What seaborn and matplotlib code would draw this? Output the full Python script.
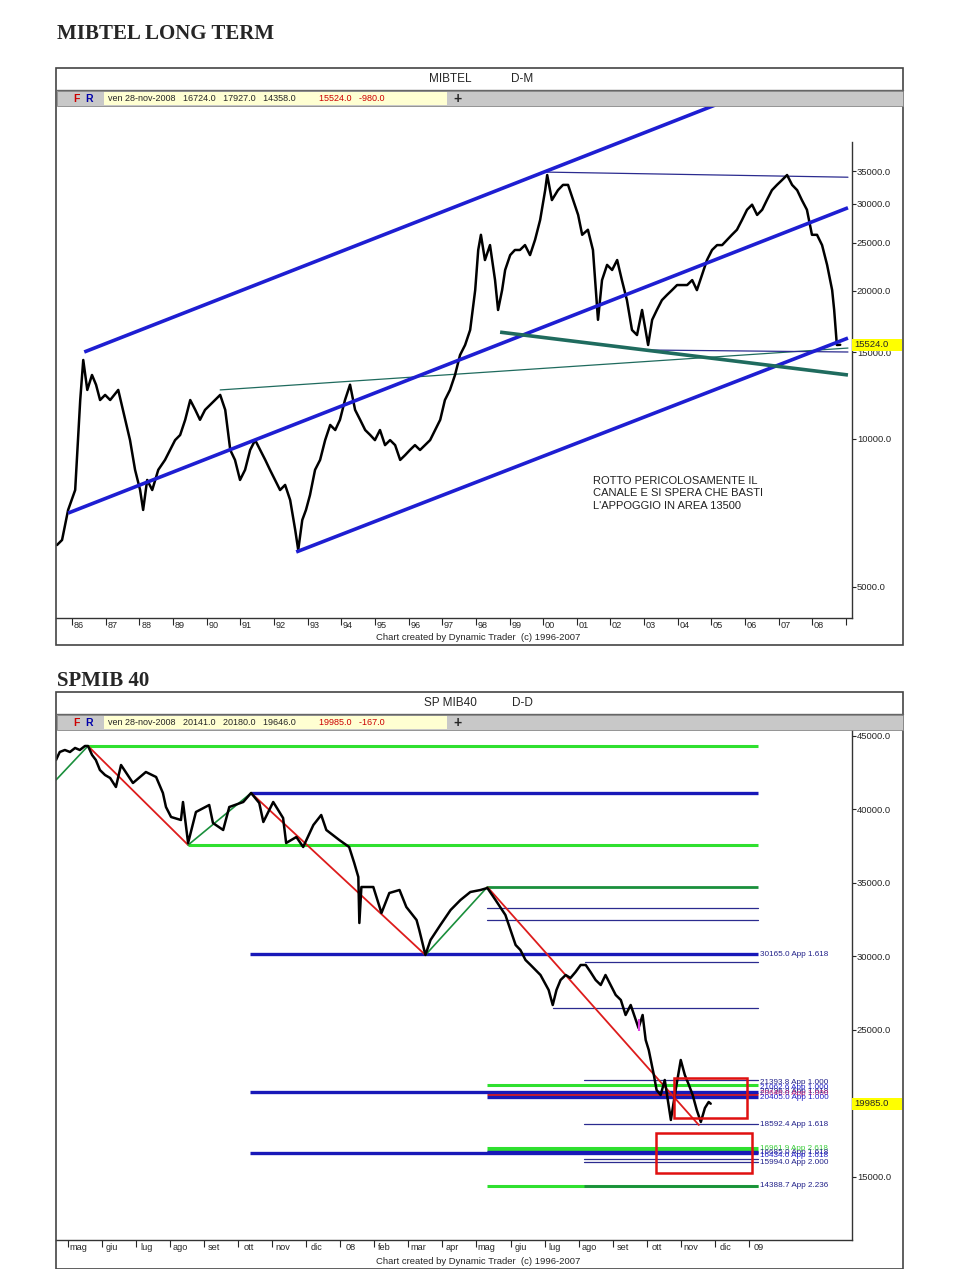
import numpy as np
import pandas as pd
import matplotlib
matplotlib.use("Agg")
import matplotlib.pyplot as plt
import seaborn as sns
from matplotlib.patches import Rectangle
from matplotlib.lines import Line2D
from matplotlib.ticker import NullLocator, FixedLocator
from matplotlib import font_manager

sns.set_style("white")
plt.rcParams['font.family'] = ['Liberation Sans', 'DejaVu Sans']
names = {f.name for f in font_manager.fontManager.ttflist}
NARROW = 'Liberation Sans Narrow' if 'Liberation Sans Narrow' in names else 'Liberation Sans'

# ---------------- DATA: MIBTEL monthly (year, close) ----------------
mib_year = [1985.55, 1985.70, 1985.88, 1986.09, 1986.24, 1986.33, 1986.45, 1986.59, 1986.71, 1986.83,
            1986.98, 1987.13, 1987.37, 1987.58, 1987.72, 1987.87, 1988.02, 1988.11, 1988.23, 1988.38,
            1988.56, 1988.76, 1988.91, 1989.06, 1989.21, 1989.36, 1989.51, 1989.66, 1989.80, 1989.95,
            1990.10, 1990.25, 1990.40, 1990.55, 1990.70, 1990.84, 1990.99, 1991.14, 1991.29, 1991.44,
            1991.59, 1991.74, 1991.88, 1992.03, 1992.18, 1992.33, 1992.48, 1992.63, 1992.72, 1992.84,
            1992.95, 1993.07, 1993.22, 1993.37, 1993.52, 1993.67, 1993.82, 1993.96, 1994.11, 1994.26,
            1994.41, 1994.56, 1994.71, 1994.86, 1995.00, 1995.15, 1995.30, 1995.45, 1995.60, 1995.75,
            1995.90, 1996.04, 1996.19, 1996.34, 1996.49, 1996.64, 1996.79, 1996.94, 1997.08, 1997.23,
            1997.38, 1997.53, 1997.68, 1997.83, 1997.98, 1998.07, 1998.15, 1998.27, 1998.42, 1998.57,
            1998.66, 1998.78, 1998.87, 1999.02, 1999.16, 1999.31, 1999.46, 1999.61, 1999.76, 1999.91,
            2000.06, 2000.12, 2000.26, 2000.44, 2000.59, 2000.74, 2000.89, 2001.04, 2001.16, 2001.33,
            2001.48, 2001.63, 2001.75, 2001.90, 2002.05, 2002.20, 2002.34, 2002.49, 2002.64, 2002.79,
            2002.94, 2003.12, 2003.24, 2003.38, 2003.53, 2003.68, 2003.83, 2003.98, 2004.13, 2004.28,
            2004.43, 2004.57, 2004.72, 2004.87, 2005.02, 2005.17, 2005.32, 2005.47, 2005.61, 2005.76,
            2005.91, 2006.06, 2006.21, 2006.36, 2006.51, 2006.65, 2006.80, 2006.95, 2007.10, 2007.25,
            2007.40, 2007.55, 2007.69, 2007.84, 2007.99, 2008.14, 2008.29, 2008.44, 2008.59, 2008.65,
            2008.73, 2008.83]
mib_close = [6085, 6230, 7170, 7870, 11990, 14460, 12570, 13480, 12880, 11990,
             12280, 11990, 12570, 10930, 9940, 8650, 7870, 7170, 8250, 7870,
             8650, 9060, 9490, 9940, 10180, 10930, 11990, 11450, 10930, 11450,
             11720, 11990, 12280, 11450, 9490, 9060, 8250, 8650, 9490, 9940,
             9490, 9060, 8650, 8250, 7870, 8060, 7510, 6530, 5945, 6840,
             7170, 7690, 8650, 9060, 9940, 10670, 10420, 10930, 11990, 12880,
             11450, 10930, 10420, 10180, 9940, 10420, 9710, 9940, 9710, 9060,
             9270, 9490, 9710, 9490, 9710, 9940, 10420, 10930, 11990, 12570,
             13480, 14800, 15510, 16640, 20050, 24190, 25970, 23080, 24750, 21010,
             18270, 20050, 22030, 23620, 24190, 24190, 24750, 23620, 25380, 27830,
             32000, 34350, 30550, 32000, 32800, 32800, 30550, 28500, 25970, 26590,
             24190, 17450, 21010, 22560, 22030, 23080, 21010, 19130, 16640, 16250,
             18270, 15510, 17450, 18270, 19130, 19600, 20050, 20530, 20530, 20530,
             21010, 20050, 21500, 23080, 24190, 24750, 24750, 25380, 25970, 26590,
             27830, 29200, 29900, 28500, 29200, 30550, 32000, 32800, 33550, 34350,
             32800, 32000, 30550, 29200, 25970, 25970, 24750, 22560, 20050, 18270,
             15510, 15524]

# channel / trend lines chart 1: (year0, value0, year1, value1)
mib_channel = [(1986.36, 15010, 2005.11, 47650),
               (1985.88, 7065, 2009.06, 29470),
               (1992.66, 5890, 2009.06, 16020)]
mib_support = [(1998.72, 16470, 2009.06, 13480)]
mib_thin_teal = [(1990.40, 12570, 2009.06, 15290)]
mib_thin_navy = [(2000.12, 34820, 2009.06, 34000),
                 (2003.12, 15150, 2009.06, 15010)]
mib_yticks = [5000, 10000, 15000, 20000, 25000, 30000, 35000]
mib_years = list(range(1986, 2010))
mib_last = 15524.0

# ---------------- DATA: SP MIB40 daily (month index from May-2007, close) ----------------
sp_month = [-0.35, -0.24, -0.09, 0.06, 0.21, 0.35, 0.50, 0.59, 0.71, 0.82, 0.94, 1.09, 1.24, 1.41,
            1.56, 1.91, 2.29, 2.59, 2.79, 2.88, 3.03, 3.32, 3.38, 3.53, 3.76, 4.15, 4.26, 4.56,
            4.74, 5.15, 5.38, 5.62, 5.74, 6.03, 6.32, 6.41, 6.71, 6.91, 7.21, 7.44, 7.59, 7.97,
            8.26, 8.41, 8.53, 8.56, 8.62, 8.97, 9.21, 9.44, 9.74, 9.94, 10.24, 10.32, 10.50,
            10.65, 10.94, 11.24, 11.53, 11.82, 12.12, 12.32, 12.56, 12.85, 13.00, 13.15, 13.29,
            13.44, 13.59, 13.88, 14.12, 14.24, 14.35, 14.47, 14.62, 14.76, 14.91, 15.06, 15.21,
            15.35, 15.50, 15.65, 15.79, 15.94, 16.09, 16.24, 16.38, 16.53, 16.68, 16.76, 16.88,
            16.97, 17.06, 17.12, 17.21, 17.29, 17.41, 17.53, 17.62, 17.71, 17.85, 18.00, 18.12,
            18.24, 18.35, 18.47, 18.59, 18.71, 18.82, 18.88]
sp_close = [43367, 43912, 44048, 43912, 44186, 44048, 44320, 44320, 43707, 43367, 42687, 42347, 42143, 41531,
            43027, 41803, 42551, 42211, 41123, 40170, 39490, 39286, 40510, 37721, 39830, 40306, 39082, 38605,
            40170, 40510, 41123, 40442, 39150, 40510, 39422, 37721, 38129, 37449, 38946, 39626, 38605, 37925,
            37449, 36360, 35408, 32279, 34727, 34727, 32959, 34319, 34524, 33367, 32483, 31802, 30102,
            31122, 32143, 33163, 33843, 34387, 34524, 34660, 33843, 32823, 31802, 30782, 30442,
            29762, 29422, 28741, 27721, 26700, 27721, 28401, 28741, 28537, 28945, 29422, 29422,
            28945, 28401, 28061, 28741, 28061, 27381, 27040, 26020, 26700, 25680, 25136, 26020,
            24319, 23639, 22959, 21938, 20918, 20578, 21598, 20238, 18878, 20918, 22959, 21938,
            21258, 20578, 19558, 18742, 19694, 20102, 19985]

sp_swings_down = [(0.59, 44320, 3.53, 37585), (5.38, 41123, 10.50, 30102), (12.32, 34727, 18.53, 18536)]
sp_swings_up = [(-0.35, 42007, 0.59, 44320), (3.53, 37585, 5.38, 41123), (10.50, 30102, 12.32, 34727)]

# horizontal levels: (value, start month)
sp_levels_green = [(44320, 0.59), (37585, 3.53), (21258, 12.32), (16961.9, 12.32), (16800, 12.32), (14388.7, 12.32)]
sp_levels_dkgreen = [(34727, 12.32), (14388.7, 15.15)]
sp_levels_blue = [(41123, 5.38), (30165.0, 5.35), (20780, 5.35), (16630, 5.35), (20442, 12.32), (16685, 12.32)]
sp_levels_red = [(20646, 12.32)]
sp_levels_thin = [(33300, 12.32), (32480, 12.32), (29600, 15.2), (26500, 14.24), (21600, 15.15),
                  (18592.4, 15.15), (16243, 15.15), (15994, 15.15)]
sp_level_end = 20.26

sp_labels = [("30165.0 App 1.618", 30165.0, 'navy'),
             ("21393.8 App 1.000", 21393.8, 'navy'),
             ("21062.6 App 1.000", 21062.6, 'blue'),
             ("20796.8 App 1.618", 20796.8, 'navy'),
             ("20646.0 App 1.000", 20646.0, 'magenta'),
             ("20405.0 App 1.000", 20405.0, 'blue'),
             ("18592.4 App 1.618", 18592.4, 'navy'),
             ("16961.9 App 2.618", 16961.9, 'green'),
             ("16685.0 App 1.618", 16685.0, 'navy'),
             ("16434.0 App 1.618", 16434.0, 'blue'),
             ("15994.0 App 2.000", 15994.0, 'navy'),
             ("14388.7 App 2.236", 14388.7, 'navy')]
sp_boxes = [(17.79, 19013, 19.94, 21734), (17.26, 15271, 20.09, 17992)]
sp_month_labels = ['mag', 'giu', 'lug', 'ago', 'set', 'ott', 'nov', 'dic', '08', 'feb', 'mar', 'apr',
                   'mag', 'giu', 'lug', 'ago', 'set', 'ott', 'nov', 'dic', '09']
sp_yticks = [15000, 25000, 30000, 35000, 40000, 45000]
sp_last = 19985.0

# ---------------- FIGURE ----------------
W, H = 960, 1269
fig = plt.figure(figsize=(9.6, 12.69), dpi=100)
fig.patch.set_facecolor('white')

def rect(x0, y0, x1, y1):
    return [x0 / W, 1 - y1 / H, (x1 - x0) / W, (y1 - y0) / H]

def frect(x0, y0, x1, y1, **kw):
    fig.add_artist(Rectangle((x0 / W, 1 - y1 / H), (x1 - x0) / W, (y1 - y0) / H,
                             transform=fig.transFigure, **kw))

def fline(x0, y0, x1, y1, **kw):
    fig.add_artist(Line2D([x0 / W, x1 / W], [1 - y0 / H, 1 - y1 / H], transform=fig.transFigure, **kw))

def ftext(x, y, s, **kw):
    fig.text(x / W, 1 - y / H, s, **kw)

BLUE1 = '#1e1ed2'
TEAL = '#1f6b5e'
NAVY = '#2b2b8f'
BGREEN = '#2fe02f'
DGREEN = '#1a8f3c'
RED = '#dd1c1c'
COLS = {'navy': '#22228a', 'blue': '#2020c8', 'green': '#3ccf3c', 'magenta': '#c0207a'}


def panel(top, title, title_y, sym, per, bar_text, bar_red):
    frect(56, top, 903, top + 577, fc='none', ec='#444444', lw=1.2, zorder=1)
    fline(56, top + 22, 903, top + 22, color='#666666', lw=1)
    frect(57, top + 22.5, 902.5, top + 38, fc='#c8c8c8', ec='#888888', lw=0.6, zorder=1)
    frect(104, top + 24, 447, top + 37, fc='#ffffd2', ec='none', zorder=2)
    ftext(450, top + 11, sym, ha='center', va='center', fontsize=8.5, family=NARROW)
    ftext(522, top + 11, per, ha='center', va='center', fontsize=8.5, family=NARROW)
    ftext(73, top + 30.5, 'F', ha='left', va='center', fontsize=7.5, color='#cc0000', weight='bold')
    ftext(85, top + 30.5, 'R', ha='left', va='center', fontsize=7.5, color='#0000aa', weight='bold')
    ftext(108, top + 30.5, bar_text, ha='left', va='center', fontsize=6.5, family=NARROW)
    ftext(319, top + 30.5, bar_red, ha='left', va='center', fontsize=6.5, family=NARROW, color='#cc0000')
    ftext(458, top + 30.5, '+', ha='center', va='center', fontsize=10, weight='bold')
    ftext(478, top + 570, 'Chart created by Dynamic Trader  (c) 1996-2007', ha='center', va='center',
          fontsize=6.8, family=NARROW)
    ftext(57, title_y, title, ha='left', va='center', fontsize=15, weight='bold',
          family=['Liberation Serif', 'DejaVu Serif'])


panel(68, 'MIBTEL LONG TERM', 34, 'MIBTEL', 'D-M',
      'ven 28-nov-2008   16724.0   17927.0   14358.0', '15524.0   -980.0')
panel(692, 'SPMIB 40', 681, 'SP MIB40', 'D-D',
      'ven 28-nov-2008   20141.0   20180.0   19646.0', '19985.0   -167.0')


def style_axes(ax, ymin_spine, ymax_spine):
    for s in ['top', 'left']:
        ax.spines[s].set_visible(False)
    ax.spines['right'].set_color('#333333')
    ax.spines['right'].set_linewidth(1.0)
    ax.spines['bottom'].set_color('#333333')
    ax.spines['bottom'].set_linewidth(1.0)
    ax.spines['right'].set_bounds(ymin_spine, ymax_spine)
    ax.yaxis.tick_right()
    ax.yaxis.set_minor_locator(NullLocator())
    ax.tick_params(axis='y', which='major', length=3, width=0.8, pad=0.5, labelsize=6.8,
                   direction='out', right=True, left=False)
    ax.set_xlabel('')
    ax.set_ylabel('')
    ax.grid(False)


def value_box(ax, v, label):
    disp = ax.transData.transform((ax.get_xlim()[1], v))
    fx, fy = fig.transFigure.inverted().transform(disp)
    fig.add_artist(Rectangle((fx, fy - 6 / H), 50 / W, 12 / H, transform=fig.transFigure,
                             fc='#ffff00', ec='none', zorder=5))
    fig.text(fx + 2 / W, fy, label, va='center', ha='left', fontsize=6.8, zorder=6)


# ---------------- CHART 1 ----------------
ax1 = fig.add_axes(rect(56, 106, 852, 618))
ax1.set_yscale('log')
df1 = pd.DataFrame({'year': mib_year, 'close': mib_close})
for (x0, v0, x1, v1) in mib_thin_teal:
    ax1.plot([x0, x1], [v0, v1], color=TEAL, lw=0.9, zorder=2)
for (x0, v0, x1, v1) in mib_thin_navy:
    ax1.plot([x0, x1], [v0, v1], color=NAVY, lw=0.9, zorder=2)
sns.lineplot(data=df1, x='year', y='close', ax=ax1, color='black', lw=1.8,
             estimator=None, sort=False, zorder=3)
for (x0, v0, x1, v1) in mib_channel:
    ax1.plot([x0, x1], [v0, v1], color=BLUE1, lw=2.6, zorder=4, solid_capstyle='butt')
for (x0, v0, x1, v1) in mib_support:
    ax1.plot([x0, x1], [v0, v1], color=TEAL, lw=2.6, zorder=4, solid_capstyle='butt')
ax1.set_xlim(1985.52, 2009.18)
ax1.set_ylim(4325, 47440)
style_axes(ax1, 4325, 40000)
ax1.yaxis.set_major_locator(FixedLocator(mib_yticks))
ax1.set_yticklabels([f"{v:.1f}" for v in mib_yticks])
ax1.xaxis.set_major_locator(FixedLocator(mib_years))
ax1.xaxis.set_minor_locator(FixedLocator([y + 0.2 for y in mib_years[:-1]]))
ax1.set_xticklabels([''] * len(mib_years))
ax1.set_xticklabels([f"{y % 100:02d}" for y in mib_years[:-1]], minor=True)
ax1.tick_params(axis='x', which='major', length=5, width=0.8, direction='out', bottom=True)
ax1.tick_params(axis='x', which='minor', length=0, pad=2, labelsize=6.6)
for t in ax1.get_xticklabels(minor=True):
    t.set_family(NARROW)
ax1.text((593 - 56) / 796, (618 - 476) / 512,
         "ROTTO PERICOLOSAMENTE IL\nCANALE E SI SPERA CHE BASTI\nL'APPOGGIO IN AREA 13500",
         transform=ax1.transAxes, ha='left', va='top', fontsize=8, linespacing=1.3, color='#222222')
value_box(ax1, mib_last, f"{mib_last:.1f}")

# ---------------- CHART 2 ----------------
ax2 = fig.add_axes(rect(56, 730, 852, 1240))
df2 = pd.DataFrame({'month': sp_month, 'close': sp_close})
for v, s in sp_levels_thin:
    ax2.plot([s, sp_level_end], [v, v], color=NAVY, lw=0.9, zorder=2)
for v, s in sp_levels_green:
    ax2.plot([s, sp_level_end], [v, v], color=BGREEN, lw=2.2, zorder=2, solid_capstyle='butt')
for v, s in sp_levels_dkgreen:
    ax2.plot([s, sp_level_end], [v, v], color=DGREEN, lw=2.0, zorder=2, solid_capstyle='butt')
for v, s in sp_levels_red:
    ax2.plot([s, sp_level_end], [v, v], color=RED, lw=2.2, zorder=2, solid_capstyle='butt')
for v, s in sp_levels_blue:
    ax2.plot([s, sp_level_end], [v, v], color='#1818b8', lw=2.4, zorder=2, solid_capstyle='butt')
for (x0, v0, x1, v1) in sp_swings_down:
    ax2.plot([x0, x1], [v0, v1], color=RED, lw=1.3, zorder=3)
for (x0, v0, x1, v1) in sp_swings_up:
    ax2.plot([x0, x1], [v0, v1], color=DGREEN, lw=1.2, zorder=3)
sns.lineplot(data=df2, x='month', y='close', ax=ax2, color='black', lw=1.8,
             estimator=None, sort=False, zorder=4)
ax2.plot([16.76], [25340], marker='|', color='#e040e0', markersize=8, mew=1.5, zorder=5)
for (m0, v0, m1, v1) in sp_boxes:
    ax2.add_patch(Rectangle((m0, v0), m1 - m0, v1 - v0, fc='none', ec='#e01010', lw=1.8, zorder=6))
for txt, v, c in sp_labels:
    ax2.text(sp_level_end + 0.06, v, txt, ha='left', va='center', fontsize=5.9, color=COLS[c], zorder=6)
ax2.set_xlim(-0.35, 23.03)
ax2.set_ylim(10713, 45408)
style_axes(ax2, 10713, 45408)
ax2.yaxis.set_major_locator(FixedLocator(sp_yticks))
ax2.set_yticklabels([f"{v:.1f}" for v in sp_yticks])
ticks2 = list(range(len(sp_month_labels)))
ax2.xaxis.set_major_locator(FixedLocator(ticks2))
ax2.xaxis.set_minor_locator(FixedLocator([t + 0.3 for t in ticks2]))
ax2.set_xticklabels([''] * len(ticks2))
ax2.set_xticklabels(sp_month_labels, minor=True)
ax2.tick_params(axis='x', which='major', length=5, width=0.8, direction='out', bottom=True)
ax2.tick_params(axis='x', which='minor', length=0, pad=2, labelsize=6.6)
for t in ax2.get_xticklabels(minor=True):
    t.set_family(NARROW)
value_box(ax2, sp_last, f"{sp_last:.1f}")

fig.savefig("out.png", dpi=100, facecolor='white')
